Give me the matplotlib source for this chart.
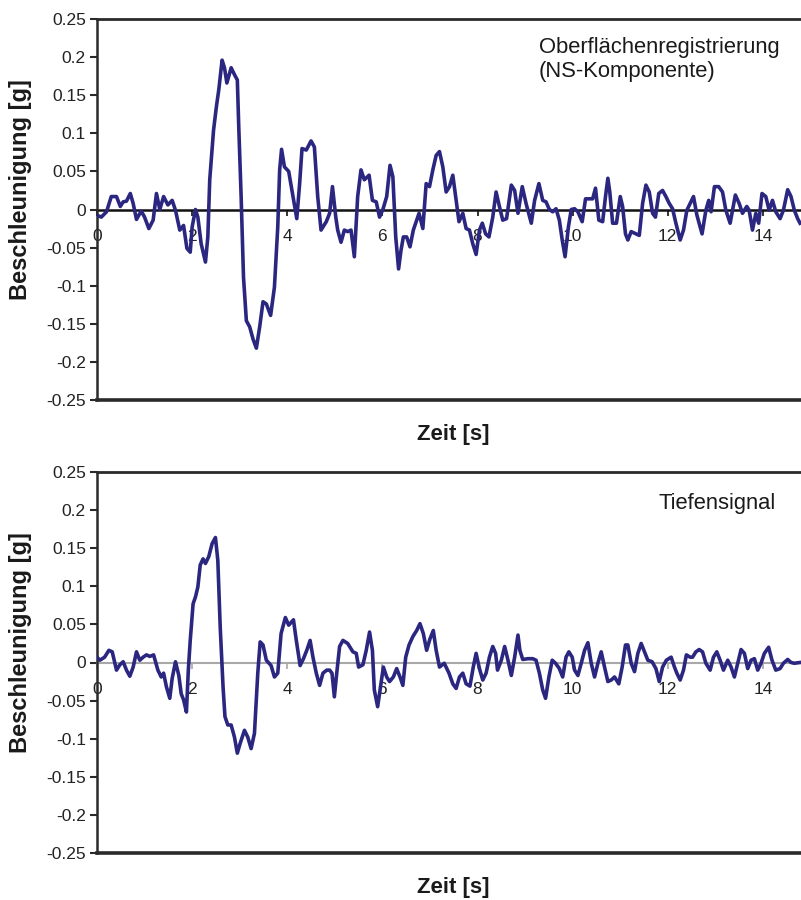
import matplotlib
matplotlib.use("Agg")
import matplotlib.pyplot as plt
from matplotlib.ticker import FuncFormatter, FixedLocator

plt.rcParams['font.family'] = ['Liberation Sans', 'DejaVu Sans']

# ---- Surface record (NS component): time [s] and acceleration [g]
surface_t = [
    0, 0.09, 0.2, 0.3, 0.41, 0.49, 0.55, 0.62, 0.70, 0.76,
    0.83, 0.93, 1.00, 1.09, 1.18, 1.25, 1.32, 1.40, 1.49, 1.58,
    1.65, 1.74, 1.82, 1.89, 1.96, 2.00, 2.07, 2.12, 2.19, 2.28,
    2.33, 2.37, 2.45, 2.51, 2.56, 2.63, 2.68, 2.73, 2.82, 2.89,
    2.95, 2.98, 3.03, 3.08, 3.14, 3.21, 3.28, 3.35, 3.42, 3.49,
    3.56, 3.65, 3.73, 3.80, 3.84, 3.88, 3.94, 4.03, 4.12, 4.20,
    4.26, 4.31, 4.40, 4.50, 4.57, 4.64, 4.71, 4.82, 4.89, 4.95,
    5.02, 5.06, 5.13, 5.20, 5.27, 5.34, 5.41, 5.48, 5.55, 5.62,
    5.72, 5.79, 5.87, 5.94, 6.01, 6.09, 6.16, 6.22, 6.28, 6.34,
    6.39, 6.44, 6.51, 6.58, 6.65, 6.77, 6.85, 6.92, 6.99, 7.06,
    7.13, 7.20, 7.27, 7.34, 7.41, 7.48, 7.54, 7.61, 7.69, 7.76,
    7.83, 7.90, 7.97, 8.04, 8.10, 8.17, 8.24, 8.32, 8.39, 8.46,
    8.53, 8.61, 8.71, 8.78, 8.85, 8.94, 9.02, 9.13, 9.20, 9.29,
    9.37, 9.44, 9.51, 9.58, 9.65, 9.72, 9.78, 9.84, 9.91, 9.97,
    10.04, 10.11, 10.20, 10.27, 10.35, 10.42, 10.48, 10.55, 10.63, 10.69,
    10.74, 10.78, 10.84, 10.92, 11.00, 11.05, 11.11, 11.16, 11.23, 11.33,
    11.40, 11.47, 11.54, 11.61, 11.68, 11.74, 11.81, 11.89, 11.96, 12.03,
    12.10, 12.17, 12.26, 12.33, 12.40, 12.47, 12.54, 12.61, 12.72, 12.80,
    12.86, 12.91, 12.98, 13.07, 13.15, 13.22, 13.31, 13.36, 13.42, 13.50,
    13.57, 13.66, 13.71, 13.78, 13.85, 13.91, 13.98, 14.06, 14.13, 14.20,
    14.27, 14.36, 14.43, 14.52, 14.59, 14.66, 14.73, 14.78,
]
surface_a = [
    -0.0075, -0.010, -0.003, 0.017, 0.017, 0.004, 0.010, 0.011, 0.021, 0.008,
    -0.013, -0.002, -0.010, -0.025, -0.014, 0.021, 0.000, 0.017, 0.006, 0.012,
    -0.001, -0.027, -0.021, -0.051, -0.056, -0.023, 0.000, -0.010, -0.045, -0.069,
    -0.036, 0.039, 0.104, 0.135, 0.157, 0.196, 0.186, 0.166, 0.186, 0.177,
    0.170, 0.109, 0.017, -0.089, -0.146, -0.154, -0.170, -0.182, -0.154, -0.121,
    -0.124, -0.139, -0.102, -0.023, 0.052, 0.079, 0.056, 0.050, 0.017, -0.012,
    0.034, 0.080, 0.078, 0.090, 0.082, 0.017, -0.027, -0.016, -0.005, 0.030,
    -0.010, -0.027, -0.043, -0.027, -0.029, -0.027, -0.062, 0.017, 0.052, 0.039,
    0.045, 0.012, 0.010, -0.010, 0.000, 0.017, 0.058, 0.043, -0.036, -0.078,
    -0.054, -0.036, -0.036, -0.049, -0.027, -0.005, -0.025, 0.034, 0.030, 0.052,
    0.071, 0.076, 0.056, 0.023, 0.030, 0.045, 0.017, -0.016, -0.005, -0.025,
    -0.027, -0.045, -0.059, -0.027, -0.018, -0.032, -0.036, -0.010, 0.023, 0.004,
    -0.014, -0.012, 0.032, 0.025, -0.005, 0.030, 0.008, -0.018, 0.012, 0.034,
    0.012, 0.010, 0.000, -0.003, 0.001, -0.014, -0.040, -0.062, -0.023, 0.000,
    0.001, -0.003, -0.016, 0.014, 0.014, 0.014, 0.028, -0.014, -0.016, 0.017,
    0.041, 0.023, -0.018, -0.018, 0.017, 0.004, -0.032, -0.040, -0.029, -0.032,
    -0.034, 0.008, 0.032, 0.023, -0.005, -0.010, 0.021, 0.025, 0.017, 0.008,
    0.001, -0.018, -0.040, -0.027, -0.001, 0.008, 0.017, -0.007, -0.032, -0.001,
    0.012, -0.003, 0.030, 0.030, 0.023, -0.001, -0.018, -0.001, 0.019, 0.008,
    -0.005, 0.004, -0.001, -0.027, -0.005, -0.018, 0.021, 0.017, -0.001, 0.012,
    -0.003, -0.012, -0.001, 0.026, 0.017, -0.001, -0.012, -0.018,
]

# ---- Depth record: time [s] and acceleration [g]
depth_t = [
    0, 0.06, 0.16, 0.25, 0.32, 0.41, 0.48, 0.55, 0.62, 0.69,
    0.76, 0.83, 0.90, 0.97, 1.04, 1.11, 1.19, 1.28, 1.35, 1.40,
    1.46, 1.53, 1.58, 1.65, 1.72, 1.77, 1.82, 1.88, 1.92, 1.96,
    2.02, 2.07, 2.12, 2.17, 2.23, 2.28, 2.35, 2.42, 2.49, 2.54,
    2.59, 2.65, 2.69, 2.75, 2.82, 2.89, 2.95, 3.01, 3.10, 3.17,
    3.24, 3.31, 3.38, 3.43, 3.49, 3.56, 3.66, 3.73, 3.80, 3.87,
    3.96, 4.03, 4.13, 4.19, 4.27, 4.34, 4.41, 4.48, 4.54, 4.61,
    4.68, 4.75, 4.83, 4.89, 4.94, 4.99, 5.04, 5.10, 5.17, 5.27,
    5.38, 5.45, 5.50, 5.59, 5.66, 5.73, 5.79, 5.83, 5.90, 5.95,
    6.02, 6.09, 6.15, 6.23, 6.30, 6.37, 6.43, 6.49, 6.56, 6.64,
    6.72, 6.79, 6.86, 6.93, 7.00, 7.07, 7.13, 7.20, 7.30, 7.40,
    7.48, 7.55, 7.62, 7.69, 7.76, 7.84, 7.91, 7.97, 8.04, 8.11,
    8.18, 8.25, 8.32, 8.38, 8.42, 8.50, 8.57, 8.64, 8.71, 8.78,
    8.85, 8.89, 8.95, 9.06, 9.16, 9.23, 9.30, 9.37, 9.43, 9.50,
    9.57, 9.64, 9.72, 9.79, 9.86, 9.92, 9.99, 10.04, 10.11, 10.18,
    10.25, 10.32, 10.39, 10.46, 10.53, 10.60, 10.67, 10.74, 10.81, 10.88,
    10.97, 11.04, 11.11, 11.16, 11.23, 11.30, 11.37, 11.44, 11.51, 11.58,
    11.67, 11.75, 11.82, 11.89, 11.97, 12.07, 12.14, 12.19, 12.26, 12.33,
    12.39, 12.47, 12.52, 12.59, 12.66, 12.73, 12.80, 12.89, 12.96, 13.03,
    13.10, 13.17, 13.26, 13.33, 13.40, 13.47, 13.54, 13.61, 13.68, 13.75,
    13.82, 13.89, 13.96, 14.03, 14.12, 14.19, 14.27, 14.36, 14.43, 14.52,
    14.59, 14.66, 14.78,
]
depth_a = [
    0.007, 0.003, 0.007, 0.016, 0.014, -0.010, -0.003, 0.001, -0.010, -0.018,
    -0.006, 0.014, 0.003, 0.007, 0.010, 0.008, 0.010, -0.010, -0.019, -0.014,
    -0.032, -0.047, -0.021, 0.001, -0.017, -0.041, -0.049, -0.065, -0.010, 0.029,
    0.077, 0.086, 0.099, 0.128, 0.136, 0.130, 0.139, 0.156, 0.164, 0.134,
    0.047, -0.032, -0.071, -0.082, -0.082, -0.098, -0.119, -0.106, -0.089, -0.098,
    -0.113, -0.093, -0.014, 0.027, 0.023, 0.003, -0.004, -0.019, -0.014, 0.038,
    0.059, 0.049, 0.056, 0.029, -0.004, 0.005, 0.016, 0.029, 0.007, -0.014,
    -0.030, -0.014, -0.010, -0.010, -0.014, -0.045, -0.014, 0.021, 0.029, 0.025,
    0.014, 0.012, -0.006, -0.003, 0.016, 0.040, 0.016, -0.036, -0.058, -0.036,
    -0.006, -0.019, -0.025, -0.019, -0.008, -0.019, -0.030, 0.007, 0.023, 0.034,
    0.042, 0.051, 0.038, 0.016, 0.031, 0.042, 0.016, -0.006, -0.001, -0.014,
    -0.028, -0.034, -0.019, -0.014, -0.028, -0.031, -0.006, 0.012, -0.008, -0.023,
    -0.014, 0.007, 0.021, 0.012, -0.010, 0.003, 0.021, 0.003, -0.017, 0.007,
    0.036, 0.016, 0.004, 0.005, 0.005, 0.003, -0.014, -0.036, -0.047, -0.019,
    0.003, -0.001, -0.008, -0.019, 0.007, 0.014, 0.007, -0.010, -0.017, -0.001,
    0.016, 0.026, -0.001, -0.019, -0.001, 0.014, -0.006, -0.025, -0.023, -0.019,
    -0.028, -0.006, 0.023, 0.023, -0.001, -0.012, 0.012, 0.025, 0.014, 0.003,
    0.001, -0.008, -0.025, -0.006, 0.003, 0.007, -0.006, -0.014, -0.023, -0.010,
    0.010, 0.007, 0.007, 0.014, 0.017, 0.014, -0.001, -0.010, 0.007, 0.014,
    0.003, -0.010, 0.003, -0.006, -0.019, -0.001, 0.017, 0.012, -0.008, 0.003,
    0.005, -0.010, -0.001, 0.012, 0.020, 0.003, -0.010, -0.008, -0.001, 0.004,
    0.000, -0.001, 0.000,
]

x_ticks = [0, 2, 4, 6, 8, 10, 12, 14]
y_ticks = [-0.25, -0.2, -0.15, -0.1, -0.05, 0, 0.05, 0.1, 0.15, 0.2, 0.25]
x_range = (0, 14.8)
y_range = (-0.25, 0.25)

LINE_COLOR = '#2b2780'
FRAME_COLOR = '#2a2a2a'

W, H = 801, 900
fig = plt.figure(figsize=(W / 100, H / 100), dpi=100)
fig.patch.set_facecolor('white')


def make_panel(rect_px, t, a, title_lines, title_xy, zero_color, zero_lw):
    left, top, right, bottom = rect_px
    ax = fig.add_axes([left / W, 1 - bottom / H, (right - left) / W, (bottom - top) / H])
    ax.plot(t, a, color=LINE_COLOR, lw=2.6, solid_joinstyle='round', zorder=3)
    ax.set_xlim(*x_range)
    ax.set_ylim(*y_range)

    # horizontal axis crosses at zero
    ax.spines['bottom'].set_position(('data', 0))
    ax.spines['bottom'].set_color(zero_color)
    ax.spines['bottom'].set_linewidth(zero_lw)
    ax.spines['bottom'].set_zorder(2)
    ax.spines['right'].set_visible(False)
    ax.spines['top'].set_color(FRAME_COLOR)
    ax.spines['top'].set_linewidth(2)
    ax.spines['left'].set_color(FRAME_COLOR)
    ax.spines['left'].set_linewidth(1.8)
    # lower frame edge
    ax.axhline(y_range[0], color=FRAME_COLOR, lw=2.6, clip_on=False, zorder=4)

    ax.xaxis.set_major_locator(FixedLocator(x_ticks))
    ax.yaxis.set_major_locator(FixedLocator(y_ticks))
    ax.yaxis.set_major_formatter(FuncFormatter(lambda v, p: f'{v:g}'))
    ax.tick_params(axis='x', direction='out', length=4, width=1.2, color=zero_color,
                   pad=10, labelsize=12.5, labelcolor='#222222')
    ax.tick_params(axis='y', direction='out', length=5, width=1.5, color=FRAME_COLOR,
                   pad=3, labelsize=12.5, labelcolor='#222222')

    ax.set_ylabel('Beschleunigung [g]', fontsize=17, fontweight='bold', color='#1a1a1a')
    ax.yaxis.set_label_coords(-0.092, 0.553)
    ax.set_xlabel('Zeit [s]', fontsize=16, fontweight='bold', color='#1a1a1a')
    ax.xaxis.set_label_coords(0.506, -0.062)

    ax.text(title_xy[0], title_xy[1], '\n'.join(title_lines), transform=ax.transAxes,
            ha='left', va='top', fontsize=15.8, color='#1a1a1a', linespacing=1.15)
    return ax


make_panel((97, 19, 801, 400), surface_t, surface_a,
           ['Oberflächenregistrierung', '(NS-Komponente)'], (0.628, 0.952),
           '#111111', 1.8)
make_panel((97, 472, 801, 853), depth_t, depth_a,
           ['Tiefensignal'], (0.798, 0.945),
           '#a8a8a8', 1.5)

fig.savefig('out.png', dpi=100, facecolor='white')
